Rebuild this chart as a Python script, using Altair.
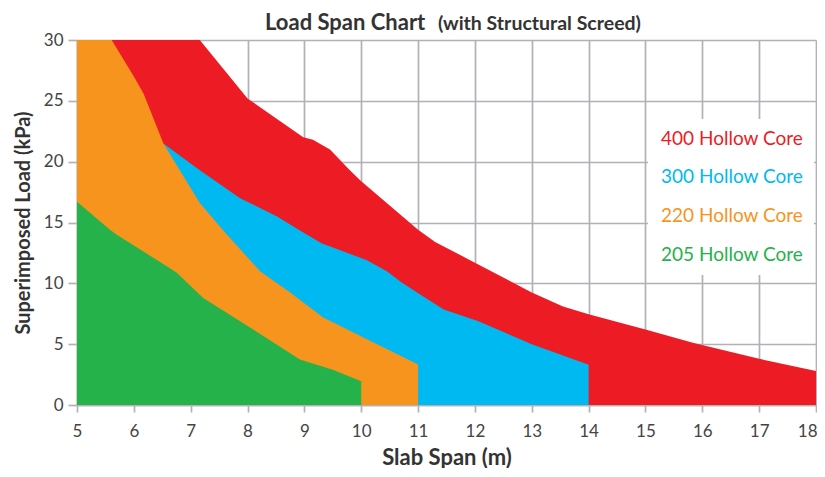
import altair as alt
import pandas as pd

FONT = "Lato"

series_names = ["400 Hollow Core", "300 Hollow Core", "220 Hollow Core", "205 Hollow Core"]
series_colors = ["#ED1C24", "#00B9F1", "#F7941D", "#25B24B"]

x_400 = [5.0, 7.16, 8.0, 8.98, 9.15, 9.45, 9.8, 10.0, 10.5, 11.0, 11.3, 12.0, 13.0, 13.55, 14.0, 15.0, 15.85, 17.0, 18.0]
y_400 = [30.0, 30.0, 25.2, 22.0, 21.8, 21.0, 19.3, 18.4, 16.4, 14.4, 13.4, 11.7, 9.25, 8.1, 7.45, 6.2, 5.1, 3.8, 2.8]

x_300 = [6.52, 7.16, 7.87, 8.52, 8.9, 9.3, 10.1, 10.45, 10.7, 11.03, 11.45, 12.05, 13.0, 14.0]
y_300 = [21.5, 19.3, 17.0, 15.5, 14.4, 13.3, 11.9, 11.0, 10.1, 9.1, 7.85, 6.9, 5.0, 3.3]

x_220 = [5.0, 5.61, 6.0, 6.17, 6.52, 6.69, 7.16, 7.6, 8.22, 8.75, 9.33, 10.04, 11.0]
y_220 = [30.0, 30.0, 27.0, 25.6, 21.5, 20.2, 16.6, 14.2, 11.0, 9.25, 7.2, 5.55, 3.33]

x_205 = [5.0, 5.58, 5.7, 6.58, 6.75, 7.22, 8.1, 8.92, 9.5, 10.0]
y_205 = [16.7, 14.4, 14.0, 11.4, 10.9, 8.8, 6.2, 3.75, 2.9, 1.95]

x_ticks = list(range(5, 19))
y_ticks = [0, 5, 10, 15, 20, 25, 30]

title_main = "Load Span Chart"
title_sub = "(with Structural Screed)"
x_title = "Slab Span (m)"
y_title = "Superimposed Load (kPa)"

GRID = "#b1b1b6"

color_scale = alt.Scale(domain=series_names, range=series_colors)

legend = alt.Legend(
    title=None,
    orient="none",
    legendX=571,
    legendY=79,
    fillColor="white",
    padding=10,
    symbolSize=0,
    symbolStrokeWidth=0,
    symbolOpacity=0,
    labelOffset=alt.ExprRef("-16"),
    labelFont=FONT,
    labelFontSize=19,
    labelColor=alt.ExprRef("scale('color', datum.value)"),
    rowPadding=18.7,
    labelLimit=300,
)

x_enc = alt.X(
    "x:Q",
    scale=alt.Scale(domain=[5, 18], nice=False, zero=False),
    axis=alt.Axis(
        values=x_ticks,
        title=x_title,
        tickSize=7,
        labelPadding=11,
        titlePadding=8,
        titleFontSize=22,
        labelAlign=alt.ExprRef("datum.value == 18 ? 'right' : 'center'"),
        labelOffset=alt.ExprRef("datum.value == 18 ? 1 : 0"),
    ),
)
y_enc = alt.Y(
    "y:Q",
    scale=alt.Scale(domain=[0, 30], nice=False),
    axis=alt.Axis(values=y_ticks, title=y_title, tickSize=9, labelPadding=5, titlePadding=10, titleFontSize=20),
)

layers = []
for name, xs, ys in [
    (series_names[0], x_400, y_400),
    (series_names[1], x_300, y_300),
    (series_names[2], x_220, y_220),
    (series_names[3], x_205, y_205),
]:
    df = pd.DataFrame({"x": xs, "y": ys, "series": name})
    layers.append(
        alt.Chart(df)
        .mark_area(interpolate="linear", opacity=1)
        .encode(
            x=x_enc,
            y=y_enc,
            color=alt.Color("series:N", scale=color_scale, legend=legend),
        )
    )

t1 = (
    alt.Chart(pd.DataFrame({"t": [title_main]}))
    .mark_text(font=FONT, fontSize=22, fontWeight="bold", align="left", baseline="alphabetic", color="#333333")
    .encode(x=alt.value(188), y=alt.value(-10), text="t:N")
)
t2 = (
    alt.Chart(pd.DataFrame({"t": [title_sub]}))
    .mark_text(font=FONT, fontSize=19.5, fontWeight="bold", align="left", baseline="alphabetic", color="#333333")
    .encode(x=alt.value(361), y=alt.value(-10), text="t:N")
)

chart = (
    alt.layer(*layers, t1, t2)
    .properties(
        width=739,
        height=365,
        autosize=alt.AutoSizeParams(type="none"),
        padding={"left": 69, "top": 32, "right": 1, "bottom": 63},
    )
    .configure_view(stroke=None)
    .configure_axis(
        grid=True,
        gridColor=GRID,
        gridWidth=1.7,
        domainColor=GRID,
        domainWidth=1.7,
        tickColor=GRID,
        tickWidth=1.7,
        labelFont=FONT,
        labelFontSize=17,
        labelColor="#444444",
        titleFont=FONT,
        titleFontWeight="bold",
        titleColor="#333333",
    )
)

chart.save("out.html", embed_options={"renderer": "svg", "actions": False})
